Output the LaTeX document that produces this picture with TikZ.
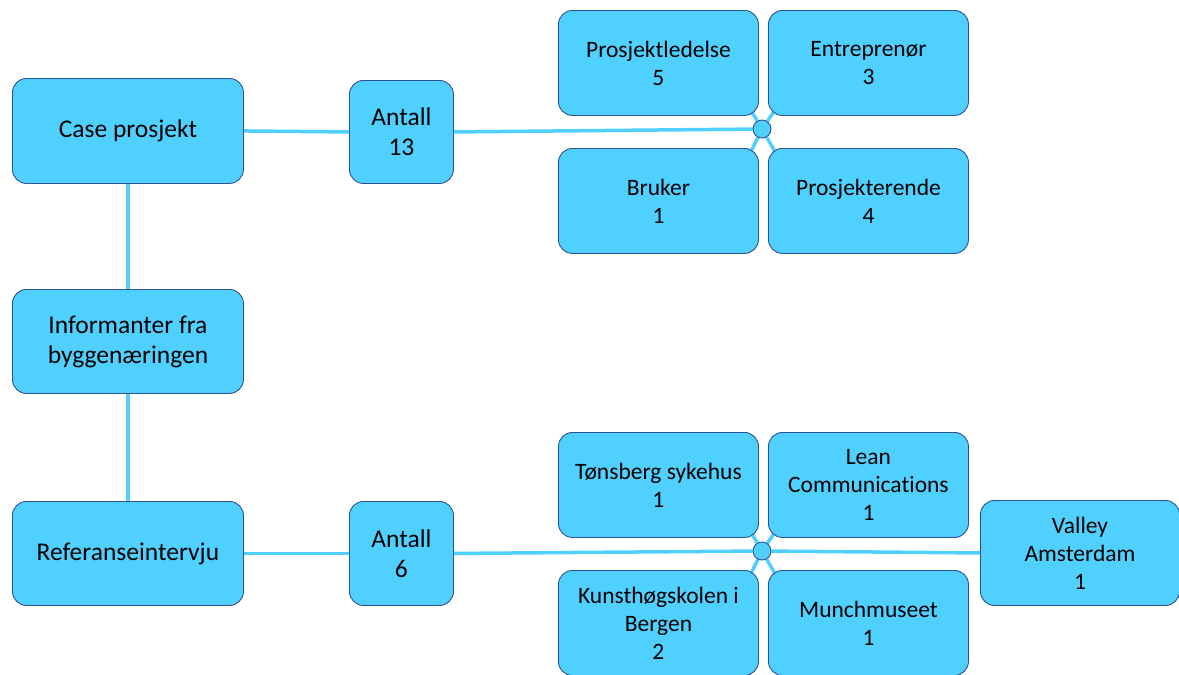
\documentclass[tikz,border=0pt]{standalone}
\usepackage{fontspec}
\setmainfont{Carlito}[Ligatures=NoCommon]
\usetikzlibrary{backgrounds,calc}
\definecolor{boxfill}{RGB}{80,208,255}
\definecolor{boxline}{RGB}{47,82,143}
\definecolor{wirecol}{RGB}{80,208,255}
\begin{document}
\begin{tikzpicture}[x=1pt,y=-1pt,
  box/.style={draw=boxline, fill=boxfill, line width=0.9pt, rounded corners=14pt,
    align=center, inner sep=0pt, anchor=north west},
  bigbox/.style={box, font=\fontsize{25.5}{30}\selectfont},
  smallbox/.style={box, font=\fontsize{23.5}{28}\selectfont,
    minimum width=200pt, minimum height=105pt},
  wire/.style={draw=wirecol, line width=3.5pt},
  hub/.style={circle, draw=boxline, fill=boxfill, line width=0.9pt,
    minimum size=18pt, inner sep=0pt}]
\useasboundingbox (0,0) rectangle (1179,675);

% left column
\node[bigbox, minimum width=231pt, minimum height=105pt] (case) at (12,78) {Case prosjekt};
\node[bigbox, minimum width=231pt, minimum height=104pt] (inf) at (12,289) {Informanter fra\\byggenæringen};
\node[bigbox, minimum width=231pt, minimum height=104pt] (ref) at (12,501) {Referanseintervju};

% counts
\node[bigbox, minimum width=104pt, minimum height=103pt] (a13) at (349,80) {Antall\\13};
\node[bigbox, minimum width=104pt, minimum height=104pt] (a6) at (349,501) {Antall\\6};

% case project groups
\node[smallbox] (pl) at (558,10) {Prosjektledelse\\5};
\node[smallbox] (ent) at (768,10) {Entreprenør\\3};
\node[smallbox] (bru) at (558,148) {Bruker\\1};
\node[smallbox] (pro) at (768,148) {Prosjekterende\\4};

% reference interviews
\node[smallbox] (ton) at (558,432) {Tønsberg sykehus\\1};
\node[smallbox] (lean) at (768,432) {Lean\\Communications\\1};
\node[smallbox] (khib) at (558,570) {Kunsthøgskolen i\\Bergen\\2};
\node[smallbox] (munch) at (768,570) {Munchmuseet\\1};
\node[smallbox, minimum width=199pt] (val) at (980,500) {Valley\\Amsterdam\\1};

% junctions
\node[hub] (h1) at (762,129) {};
\node[hub] (h2) at (762,551) {};

% connectors, kept behind the boxes; diagonal spokes run into the rounded corners
\begin{scope}[on background layer]
  \draw[wire] (case.east) -- (a13.west);
  \draw[wire] (a13.east) -- (h1);
  \draw[wire] (h1) -- ($(pl.south east)+(-14,-16)$);
  \draw[wire] (h1) -- ($(ent.south west)+(14,-16)$);
  \draw[wire] (h1) -- ($(bru.north east)+(-14,16)$);
  \draw[wire] (h1) -- ($(pro.north west)+(14,16)$);
  \draw[wire] (case.south) -- (inf.north);
  \draw[wire] (inf.south) -- (ref.north);
  \draw[wire] (ref.east) -- (a6.west);
  \draw[wire] (a6.east) -- (h2) -- (val.west);
  \draw[wire] (h2) -- ($(ton.south east)+(-14,-16)$);
  \draw[wire] (h2) -- ($(lean.south west)+(14,-16)$);
  \draw[wire] (h2) -- ($(khib.north east)+(-14,16)$);
  \draw[wire] (h2) -- ($(munch.north west)+(14,16)$);
\end{scope}
\end{tikzpicture}
\end{document}
